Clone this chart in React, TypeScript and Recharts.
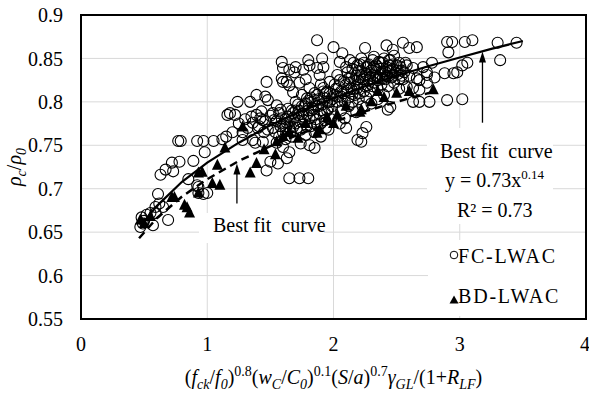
import { ScatterChart, Scatter, XAxis, YAxis, CartesianGrid, ReferenceArea, ReferenceLine } from 'recharts'

const xTicks = [0, 1, 2, 3, 4]
const yTicks = [0.55, 0.6, 0.65, 0.7, 0.75, 0.8, 0.85, 0.9]

// FC-LWAC measured points [x, rho_c/rho_0]
const fcLwac: [number, number][] = [
  [0.47, 0.656], [0.48, 0.667], [0.49, 0.66], [0.5, 0.663], [0.52, 0.67], [0.55, 0.672], [0.57, 0.658],
  [0.59, 0.679], [0.59, 0.672], [0.61, 0.694], [0.62, 0.683], [0.63, 0.716], [0.65, 0.679], [0.69, 0.664],
  [0.67, 0.722], [0.72, 0.73], [0.73, 0.72], [0.77, 0.755], [0.79, 0.755], [0.78, 0.731], [0.85, 0.711],
  [0.89, 0.732], [0.92, 0.755], [0.93, 0.702], [0.93, 0.695], [0.97, 0.755], [0.97, 0.694], [0.98, 0.742],
  [1.05, 0.755], [0.92, 0.704], [1.0, 0.695],
  [1.16, 0.785], [1.18, 0.787], [1.22, 0.785], [1.24, 0.8], [1.28, 0.765], [1.28, 0.756], [1.34, 0.8],
  [1.35, 0.783], [1.36, 0.756], [1.38, 0.753], [1.39, 0.808], [1.42, 0.781], [1.44, 0.779], [1.44, 0.754],
  [1.46, 0.806], [1.47, 0.823], [1.47, 0.721], [1.48, 0.802], [1.5, 0.731], [1.15, 0.76], [1.2, 0.765],
  [1.25, 0.775], [1.3, 0.78], [1.32, 0.77], [1.4, 0.77], [1.45, 0.765], [1.12, 0.757],
  [1.36, 0.776], [1.39, 0.785], [1.41, 0.772], [1.43, 0.789], [1.46, 0.778], [1.48, 0.768], [1.5, 0.784],
  [1.53, 0.779], [1.54, 0.765], [1.57, 0.787], [1.59, 0.781], [1.62, 0.772], [1.64, 0.792], [1.66, 0.766],
  [1.68, 0.787], [1.7, 0.79], [1.73, 0.778], [1.75, 0.786],
  [1.59, 0.846], [1.6, 0.839], [1.65, 0.837], [1.69, 0.834], [1.7, 0.84], [1.76, 0.837], [1.8, 0.848],
  [1.81, 0.842], [1.87, 0.839], [1.89, 0.831], [1.91, 0.85], [1.92, 0.84], [1.87, 0.871], [1.59, 0.827],
  [1.63, 0.823], [1.65, 0.819], [1.68, 0.811], [1.6, 0.823], [1.81, 0.816], [1.79, 0.804], [1.92, 0.816],
  [1.97, 0.823], [2.0, 0.863], [1.52, 0.787], [1.55, 0.796], [1.58, 0.791], [1.63, 0.776], [1.68, 0.771],
  [1.84, 0.785], [1.93, 0.788], [1.55, 0.753], [1.6, 0.748], [1.65, 0.742], [1.63, 0.735], [1.56, 0.729],
  [1.65, 0.712], [1.73, 0.712], [1.8, 0.712], [1.81, 0.75], [1.85, 0.747], [1.52, 0.77], [1.55, 0.778],
  [1.58, 0.772], [1.6, 0.765], [1.62, 0.78], [1.65, 0.77], [1.67, 0.76], [1.7, 0.775], [1.72, 0.785],
  [1.74, 0.768], [1.75, 0.795], [1.77, 0.778], [1.78, 0.762], [1.8, 0.79], [1.82, 0.772], [1.83, 0.8],
  [1.85, 0.765], [1.86, 0.78], [1.88, 0.795], [1.9, 0.775], [1.92, 0.805], [1.94, 0.77], [1.95, 0.79],
  [1.97, 0.8], [1.98, 0.78], [1.7, 0.8], [1.75, 0.808], [1.73, 0.822], [1.78, 0.826], [1.85, 0.81],
  [1.9, 0.82], [1.95, 0.812], [1.57, 0.76], [1.62, 0.757], [1.74, 0.752], [1.9, 0.76], [1.96, 0.768],
  [1.61, 0.775], [1.64, 0.783], [1.66, 0.778], [1.69, 0.782], [1.71, 0.77], [1.73, 0.79], [1.76, 0.783],
  [1.79, 0.772], [1.81, 0.781], [1.84, 0.792], [1.87, 0.773], [1.89, 0.786], [1.91, 0.797], [1.93, 0.779],
  [1.96, 0.793], [1.99, 0.803], [1.67, 0.79], [1.72, 0.797], [1.78, 0.798], [1.82, 0.805], [1.87, 0.808],
  [1.94, 0.81],
  [1.77, 0.795], [1.79, 0.785], [1.8, 0.801], [1.83, 0.79], [1.85, 0.802], [1.86, 0.795], [1.88, 0.803],
  [1.9, 0.79], [1.92, 0.812], [1.95, 0.8], [1.97, 0.81], [1.99, 0.795], [2.01, 0.82], [2.03, 0.806],
  [2.06, 0.812], [2.09, 0.8], [2.12, 0.827], [2.14, 0.815], [2.17, 0.808], [2.19, 0.826],
  [2.03, 0.831], [2.05, 0.846], [2.07, 0.856], [2.11, 0.834], [2.13, 0.848], [2.25, 0.862], [2.42, 0.865],
  [2.47, 0.86], [2.55, 0.868], [2.6, 0.862], [2.66, 0.863],
  [2.02, 0.815], [2.05, 0.825], [2.08, 0.81], [2.1, 0.82], [2.12, 0.805], [2.14, 0.828], [2.15, 0.838],
  [2.16, 0.815], [2.18, 0.83], [2.19, 0.842], [2.2, 0.82], [2.21, 0.81], [2.22, 0.835], [2.23, 0.826],
  [2.24, 0.845], [2.25, 0.818], [2.26, 0.832], [2.27, 0.84], [2.28, 0.825], [2.29, 0.812], [2.3, 0.836],
  [2.31, 0.848], [2.32, 0.822], [2.33, 0.83], [2.34, 0.842], [2.35, 0.815], [2.36, 0.828], [2.37, 0.838],
  [2.38, 0.82], [2.39, 0.845], [2.4, 0.832], [2.41, 0.826], [2.42, 0.84], [2.43, 0.818], [2.44, 0.835],
  [2.45, 0.848], [2.46, 0.828], [2.47, 0.838], [2.48, 0.822], [2.5, 0.842], [2.51, 0.832], [2.52, 0.815],
  [2.54, 0.836], [2.55, 0.826], [2.57, 0.845], [2.58, 0.842], [2.58, 0.817], [2.6, 0.83], [2.63, 0.839],
  [2.63, 0.816], [2.66, 0.827], [2.68, 0.825], [2.68, 0.814], [2.71, 0.84], [2.74, 0.831], [2.74, 0.822],
  [2.78, 0.845],
  [2.01, 0.808], [2.04, 0.818], [2.06, 0.806], [2.08, 0.824], [2.11, 0.813], [2.13, 0.822], [2.15, 0.809],
  [2.17, 0.824], [2.19, 0.816], [2.21, 0.828], [2.24, 0.812], [2.25, 0.83], [2.27, 0.819], [2.29, 0.833],
  [2.31, 0.818], [2.33, 0.838], [2.35, 0.825], [2.37, 0.832], [2.39, 0.827], [2.41, 0.835], [2.43, 0.829],
  [2.45, 0.836], [2.47, 0.83], [2.49, 0.834], [2.52, 0.826], [2.54, 0.83], [2.56, 0.834], [2.2, 0.836],
  [2.28, 0.843], [2.36, 0.846], [2.44, 0.842], [2.52, 0.845], [2.16, 0.845], [2.1, 0.84], [2.4, 0.85],
  [2.32, 0.852], [2.48, 0.853], [2.22, 0.85],
  [2.21, 0.843], [2.24, 0.826], [2.26, 0.84], [2.29, 0.827], [2.32, 0.84], [2.34, 0.83], [2.37, 0.845],
  [2.39, 0.835], [2.42, 0.83], [2.44, 0.848], [2.47, 0.843], [2.5, 0.836], [2.53, 0.84],
  [2.03, 0.8], [2.06, 0.79], [2.09, 0.781], [2.12, 0.795], [2.15, 0.8], [2.18, 0.788], [2.2, 0.803],
  [2.23, 0.795], [2.26, 0.805], [2.3, 0.798], [2.35, 0.803], [2.4, 0.808], [2.43, 0.791], [2.45, 0.794],
  [2.19, 0.756], [2.23, 0.764], [2.26, 0.771], [2.22, 0.754], [2.1, 0.77], [2.05, 0.775],
  [2.63, 0.8], [2.68, 0.8], [2.76, 0.8], [2.9, 0.802], [3.02, 0.803], [2.88, 0.833], [2.95, 0.833],
  [2.98, 0.834], [3.02, 0.842], [3.06, 0.845], [2.74, 0.834], [2.9, 0.869], [2.94, 0.869], [2.91, 0.857],
  [3.04, 0.869], [3.1, 0.871], [3.3, 0.868], [3.45, 0.868], [3.32, 0.848], [2.8, 0.828]
]

// BD-LWAC measured points
const bdLwac: [number, number][] = [
  [0.47, 0.664], [0.5, 0.66], [0.55, 0.668], [0.72, 0.69], [0.74, 0.69], [0.82, 0.681], [0.84, 0.678],
  [0.86, 0.672], [0.93, 0.718], [0.93, 0.695], [0.96, 0.719], [1.04, 0.706], [1.08, 0.727], [1.1, 0.704],
  [1.14, 0.747], [1.28, 0.771], [1.34, 0.718], [1.39, 0.729], [1.45, 0.745], [1.54, 0.739], [1.55, 0.754],
  [1.6, 0.76], [1.65, 0.765], [1.72, 0.758], [1.78, 0.775], [1.87, 0.764], [1.89, 0.768], [1.95, 0.782],
  [2.0, 0.775], [2.03, 0.785], [2.1, 0.795], [2.21, 0.788], [2.22, 0.791], [2.3, 0.8], [2.35, 0.812],
  [2.4, 0.805], [2.5, 0.81], [2.6, 0.812], [2.79, 0.814]
]

// best fit curves
const fcFit: [number, number][] = [
  [0.48, 0.659], [0.6, 0.68], [0.8, 0.708], [1.0, 0.73], [1.25, 0.753], [1.5, 0.773], [1.75, 0.79],
  [2.0, 0.804], [2.25, 0.818], [2.5, 0.83], [2.75, 0.841], [3.0, 0.851], [3.25, 0.861], [3.5, 0.87]
]
const bdFit: [number, number][] = [
  [0.46, 0.643], [0.6, 0.666], [0.8, 0.691], [1.0, 0.711], [1.25, 0.732], [1.5, 0.749], [1.75, 0.764],
  [2.0, 0.777], [2.25, 0.789], [2.5, 0.8], [2.8, 0.812]
]

const toPts = (a: [number, number][]) => a.map(([x, y]) => ({ x, y }))

const FONT = '"Liberation Serif", "Times New Roman", serif'
const FS = 20

const OpenCircle = (p: any) =>
  p.cx == null ? <g /> : <circle cx={p.cx} cy={p.cy} r={5.5} fill="none" stroke="#000" strokeWidth={1.1} />

const Triangle = (p: any) =>
  p.cx == null ? <g /> : (
    <polygon points={`${p.cx},${p.cy - 6.5} ${p.cx - 5.5},${p.cy + 4.5} ${p.cx + 5.5},${p.cy + 4.5}`} fill="#000" />
  )

const Arrow = (p: any) => (
  <g>
    <line x1={p.x1} y1={p.y1} x2={p.x2} y2={p.y2 + 8} stroke="#000" strokeWidth={1.3} />
    <polygon points={`${p.x2},${p.y2} ${p.x2 - 3.5},${p.y2 + 11} ${p.x2 + 3.5},${p.y2 + 11}`} fill="#000" />
  </g>
)

const XTick = (p: any) => (
  <text x={p.x} y={p.y} dy="0.71em" textAnchor="middle" fontFamily={FONT} fontSize={FS} fill="#000">
    {p.payload.value}
  </text>
)
const YTick = (p: any) => (
  <text x={p.x} y={p.y} dy="0.355em" textAnchor="end" fontFamily={FONT} fontSize={FS} fill="#000">
    {String(+Number(p.payload.value).toFixed(2))}
  </text>
)

type Part = { t: string; i?: boolean; s?: 'sub' | 'sup' }
const xLabelParts: Part[] = [
  { t: '(' }, { t: 'f', i: true }, { t: 'ck', i: true, s: 'sub' }, { t: '/' }, { t: 'f', i: true },
  { t: '0', i: true, s: 'sub' }, { t: ')' }, { t: '0.8', s: 'sup' }, { t: '(' }, { t: 'w', i: true },
  { t: 'C', i: true, s: 'sub' }, { t: '/' }, { t: 'C', i: true }, { t: '0', i: true, s: 'sub' }, { t: ')' },
  { t: '0.1', s: 'sup' }, { t: '(' }, { t: 'S', i: true }, { t: '/' }, { t: 'a', i: true }, { t: ')' },
  { t: '0.7', s: 'sup' }, { t: 'γ', i: true }, { t: 'GL', i: true, s: 'sub' }, { t: '/(1+' },
  { t: 'R', i: true }, { t: 'LF', i: true, s: 'sub' }, { t: ')' }
]
const yLabelParts: Part[] = [
  { t: 'ρ', i: true }, { t: 'c', i: true, s: 'sub' }, { t: '/' }, { t: 'ρ', i: true }, { t: '0', i: true, s: 'sub' }
]

function spans(parts: Part[]) {
  let cur = 0
  return parts.map((p, k) => {
    const want = p.s === 'sub' ? 5 : p.s === 'sup' ? -8 : 0
    const dy = want - cur
    cur = want
    return (
      <tspan key={k} dy={dy} fontStyle={p.i ? 'italic' : 'normal'} fontSize={p.s ? 14 : FS}>
        {p.t}
      </tspan>
    )
  })
}

const XLabel = (props: any) => {
  const vb = props.viewBox || { x: 81, y: 319, width: 505 }
  return (
    <text x={vb.x + vb.width / 2} y={vb.y + 65} textAnchor="middle" fontFamily={FONT} fontSize={FS} fill="#000">
      {spans(xLabelParts)}
    </text>
  )
}

const YLabel = (props: any) => {
  const vb = props.viewBox || { y: 15, height: 304 }
  const cy = vb.y + vb.height / 2
  return (
    <text x={21} y={cy} transform={`rotate(-90, 21, ${cy})`} textAnchor="middle" fontFamily={FONT} fontSize={FS} fill="#000">
      {spans(yLabelParts)}
    </text>
  )
}

const txt: React.CSSProperties = {
  position: 'absolute',
  fontFamily: FONT,
  fontSize: FS,
  lineHeight: `${FS}px`,
  whiteSpace: 'pre',
  color: '#000'
}

export default function App() {
  return (
    <div style={{ position: 'absolute', left: 0, top: 0, width: 589, height: 394, background: '#fff', fontFamily: FONT }}>
      <ScatterChart width={589} height={394} margin={{ top: 15, right: 3, bottom: 0, left: 0 }}>
        <CartesianGrid stroke="#d9d9d9" strokeWidth={1} />
        <XAxis
          type="number"
          dataKey="x"
          domain={[0, 4]}
          ticks={xTicks}
          height={75}
          axisLine={false}
          tickLine={false}
          tickSize={0}
          tickMargin={18}
          tick={<XTick />}
          label={<XLabel />}
        />
        <YAxis
          type="number"
          dataKey="y"
          domain={[0.55, 0.9]}
          ticks={yTicks}
          width={81}
          axisLine={false}
          tickLine={false}
          tickSize={0}
          tickMargin={18}
          tick={<YTick />}
          label={<YLabel />}
        />
        <Scatter data={toPts(fcLwac)} shape={OpenCircle} fill="#000" isAnimationActive={false} />
        <Scatter data={toPts(bdLwac)} shape={Triangle} fill="#000" isAnimationActive={false} />
        <Scatter
          data={toPts(bdFit)}
          fill="#000"
          line={{ stroke: '#000', strokeWidth: 2.5, strokeDasharray: '8 5' }}
          shape={() => <g />}
          isAnimationActive={false}
        />
        <Scatter
          data={toPts(fcFit)}
          fill="#000"
          line={{ stroke: '#000', strokeWidth: 2.2 }}
          shape={() => <g />}
          isAnimationActive={false}
        />
        <ReferenceLine segment={[{ x: 1.235, y: 0.683 }, { x: 1.235, y: 0.729 }]} shape={Arrow} />
        <ReferenceLine segment={[{ x: 3.18, y: 0.776 }, { x: 3.18, y: 0.858 }]} shape={Arrow} />
        <ReferenceArea x1={0} x2={4} y1={0.55} y2={0.9} fill="none" stroke="#000" strokeWidth={2} />
      </ScatterChart>

      {/* annotation boxes */}
      <div style={{ position: 'absolute', left: 199, top: 213, width: 125, height: 30, background: '#fff' }} />
      <div style={{ ...txt, left: 213, top: 215 }}>Best fit  curve</div>

      <div style={{ position: 'absolute', left: 427, top: 128, width: 126, height: 96, background: '#fff' }} />
      <div style={{ ...txt, left: 440, top: 141 }}>Best fit  curve</div>
      <div style={{ ...txt, left: 445, top: 170 }}>
        y = 0.73x<span style={{ fontSize: 13, position: 'relative', top: -8 }}>0.14</span>
      </div>
      <div style={{ ...txt, left: 457, top: 200 }}>R² = 0.73</div>

      {/* legend */}
      <div style={{ position: 'absolute', left: 428, top: 240, width: 157, height: 76, background: '#fff' }}>
        <svg style={{ position: 'absolute', left: 21, top: 10 }} width={10} height={10}>
          <circle cx={5} cy={5} r={3.8} fill="none" stroke="#000" strokeWidth={1} />
        </svg>
        <div style={{ ...txt, left: 30, top: 6, letterSpacing: 1.8 }}>FC-LWAC</div>
        <svg style={{ position: 'absolute', left: 21, top: 55 }} width={10} height={10}>
          <polygon points="5,0.5 0.5,8.5 9.5,8.5" fill="#000" />
        </svg>
        <div style={{ ...txt, left: 30, top: 46, letterSpacing: 1.8 }}>BD-LWAC</div>
      </div>
    </div>
  )
}
